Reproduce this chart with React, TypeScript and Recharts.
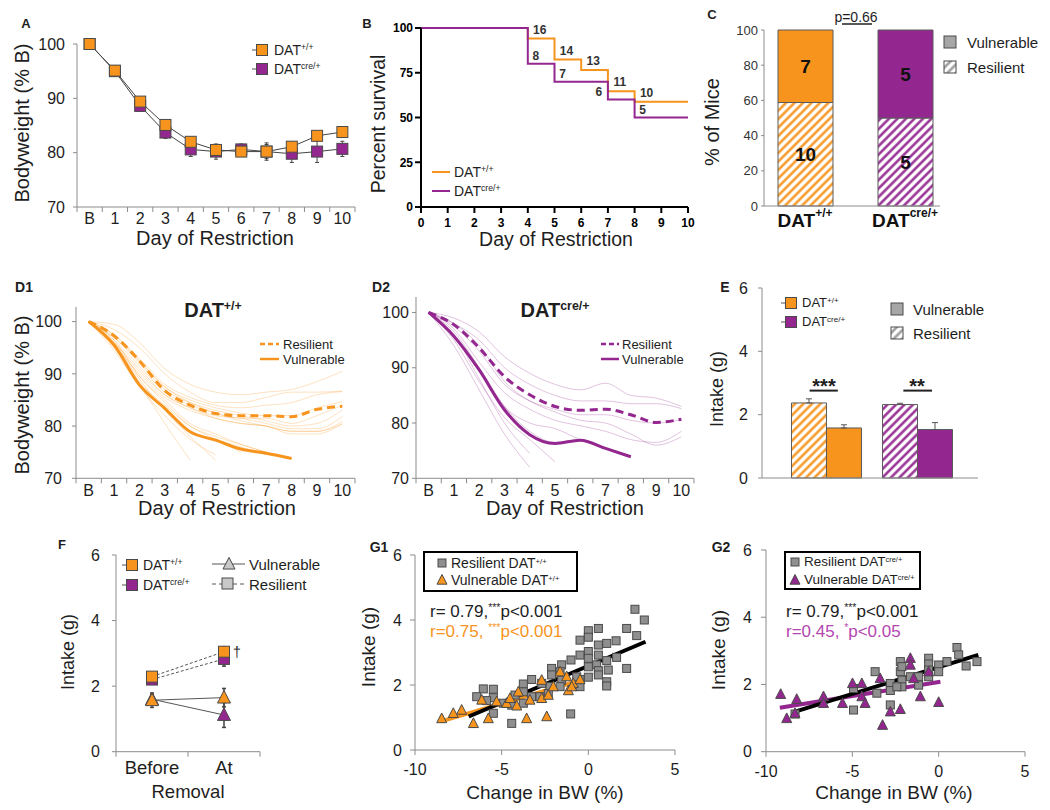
import React from "react";
import {
  LineChart,
  Line,
  BarChart,
  Bar,
  Cell,
  ScatterChart,
  Scatter,
  XAxis,
  YAxis,
  ErrorBar,
  LabelList,
  ReferenceLine,
} from "recharts";

const FONT = '"Liberation Sans", Arial, Helvetica, sans-serif';
const ORANGE = "#f7941d";
const PURPLE = "#93278f";
const PINK = "#b446b0";
const GREY = "#8f8f8f";
const EDGE = "#4a4a4a";
const AXIS = "#8c8c8c";
const INK = "#1e1e1e";

// ---------- data ----------
const dayLabels = ["B", "1", "2", "3", "4", "5", "6", "7", "8", "9", "10"];
const dayIdx = dayLabels.map((_, i) => i);

// A: mean bodyweight (% of baseline)
const bwWT = [100, 95.1, 89.4, 85.1, 82.0, 80.5, 80.2, 80.2, 81.1, 83.1, 83.8];
const bwWTErr = [0, 0.4, 0.5, 0.6, 0.8, 0.9, 0.9, 1.6, 0.9, 0.8, 0.7];
const bwCre = [100, 95.0, 88.6, 83.7, 80.6, 80.2, 80.6, 80.2, 79.8, 80.2, 80.7];
const bwCreErr = [0, 0.5, 0.9, 1.1, 1.3, 1.4, 1.0, 1.3, 1.6, 2.0, 1.4];

// B: survival (step curves) and mice still in the study
const survDays = [0, 4, 5, 6, 7, 8, 10];
const survWT = [100, 94.1, 82.4, 76.5, 64.7, 58.8, 58.8];
const survWTn = [null, 16, 14, 13, 11, 10, null];
const survCre = [100, 80, 70, 70, 60, 50, 50];
const survCreN = [null, 8, 7, null, 6, 5, null];

// C: outcome split
const genotypeSup = ["+/+", "cre/+"];
const pctResilient = [58.8, 50];
const pctVulnerable = [41.2, 50];
const nResilient = [10, 5];
const nVulnerable = [7, 5];

// D1: individual DAT+/+ traces
const d1Resilient = [
  [100, 99.5, 96, 91, 88, 86.5, 86, 86.5, 87, 88.5, 90.5],
  [100, 98.5, 95, 90, 86.5, 84.5, 84.5, 85.5, 86.5, 86.5, 86.7],
  [100, 97.5, 93, 88, 85.5, 84, 83.5, 84, 84.5, 86, 86.6],
  [100, 97, 92.5, 87.5, 85, 83.5, 82.5, 82, 82, 83.5, 84.7],
  [100, 96.5, 91.5, 86.5, 84, 82.5, 81.5, 81.5, 80.5, 82, 84.0],
  [100, 97, 92, 87, 84.5, 83, 82, 81, 80, 80.5, 83.1],
  [100, 96, 90.5, 86, 83.5, 82, 81.5, 80.5, 79.5, 79.5, 81.8],
  [100, 95.5, 90, 85.5, 83, 81.5, 80.5, 80, 79, 79, 80.9],
  [100, 96, 91, 86, 83.5, 81.5, 80.5, 80, 78.5, 78.5, 80.5],
  [100, 97.5, 92.5, 87.5, 84.5, 82.5, 81, 80, 79, 79, 80.4],
];
const d1Vulnerable = [
  [100, 95, 88, 80.5, 73.5],
  [100, 95.5, 89, 83, 78, 73.5],
  [100, 94.5, 87.5, 82, 77.5, 74.5],
  [100, 96, 89.5, 84.5, 80, 77.5, 75],
  [100, 96, 88.5, 84, 80, 78, 76.5, 75],
  [100, 95.5, 88, 83.5, 79, 77.5, 76, 74.5],
  [100, 96.5, 89.5, 85, 80.5, 78.5, 76.5, 75, 73.8],
];
const d1ResMean = [100, 97.3, 92.5, 86.8, 84.0, 82.4, 82.0, 82.0, 81.8, 83.2, 83.8];
const d1VulMean = [100, 95.5, 87.9, 83.4, 78.9, 77.3, 75.6, 74.8, 73.8];

// D2: individual DATcre/+ traces
const d2Resilient = [
  [100, 99, 96.5, 92, 89, 87, 86, 87.2, 85, 84.5, 83],
  [100, 98, 95, 90, 87, 85, 84, 84, 83.5, 83.5, 82.6],
  [100, 97.5, 93, 87, 84, 82.5, 81.5, 81.5, 80.5, 80, 80.6],
  [100, 98, 94, 87.5, 84, 82, 80.5, 80, 78, 76, 77.5],
  [100, 97, 91, 85.5, 82.5, 80.5, 79.5, 78.5, 77, 76.5, 78.5],
];
const d2Vulnerable = [
  [100, 94, 86, 78, 72],
  [100, 96, 88, 80, 74.5],
  [100, 95, 87.5, 81, 77, 73],
  [100, 96.5, 90, 83, 80, 79, 77, 75.5],
  [100, 96, 90, 83, 78.5, 76.5, 77, 75.5, 74],
];
const d2ResMean = [100, 97.8, 93.6, 88.4, 85.1, 83.0, 82.3, 82.5, 81.5, 80.1, 80.7];
const d2VulMean = [100, 95.7, 89.6, 82.4, 77.9, 76.3, 76.9, 75.4, 73.9];

// E: intake during restriction
const intakeRes = [2.37, 2.32];
const intakeResErr = [0.13, 0.04];
const intakeVul = [1.58, 1.53];
const intakeVulErr = [0.1, 0.22];

// F: intake before / at removal
const phaseLabels = ["Before", "At"];
const fResWT = [2.29, 3.05];
const fResWTErr = [0.1, 0.15];
const fResCre = [2.2, 2.83];
const fResCreErr = [0.1, 0.22];
const fVulWT = [1.57, 1.65];
const fVulWTErr = [0.22, 0.28];
const fVulCre = [1.6, 1.12];
const fVulCreErr = [0.15, 0.38];

// G1 / G2: change in BW (%) vs intake (g)
const g1Resilient: [number, number][] = [
  [2.69, 4.33], [3.23, 4.0], [2.21, 3.74], [2.79, 3.52], [0.58, 3.74], [0, 3.67], [0, 3.47],
  [-0.48, 3.38], [0.58, 3.23], [1.06, 3.28], [1.6, 3.36], [0, 3.03], [-0.48, 2.92], [0.58, 2.92],
  [1.63, 2.85], [-1.0, 2.77], [0, 2.82], [1.06, 2.75], [0.48, 2.62], [0, 2.56], [0.58, 2.44],
  [1.15, 2.46], [2.21, 2.51], [0.58, 2.31], [0, 2.24], [1.06, 2.1], [1.06, 1.97], [-0.48, 1.95],
  [-0.48, 2.17], [-1.54, 2.62], [-2.12, 2.51], [-1.63, 2.41], [-1.54, 2.15], [-2.12, 2.31],
  [-1.63, 1.95], [-2.21, 1.95], [-2.69, 2.05], [-3.27, 2.17], [-3.75, 2.03], [-3.27, 1.64],
  [-3.75, 1.79], [-4.23, 1.69], [-3.75, 1.44], [-4.42, 1.38], [-4.9, 1.44], [-5.48, 1.61],
  [-5.48, 1.87], [-6.06, 1.88], [-6.44, 1.64], [-5.87, 1.52], [-5.48, 1.13], [-4.42, 0.82],
  [-1.02, 1.11], [-2.79, 1.64], [-0.67, 2.25], [-2.31, 1.74],
];
const g1Vulnerable: [number, number][] = [
  [-8.46, 0.97], [-7.79, 1.13], [-7.31, 1.23], [-6.63, 0.82], [-6.15, 1.54], [-5.77, 0.97],
  [-5.29, 1.49], [-4.71, 1.44], [-4.13, 1.36], [-4.04, 1.79], [-3.56, 0.97], [-2.69, 2.15],
  [-2.69, 1.59], [-2.4, 1.03], [-2.31, 1.69], [-1.63, 2.41], [-1.25, 2.26], [-1.15, 1.83],
  [-0.87, 2.05], [-0.48, 2.17], [-0.96, 1.95], [-2.02, 1.95], [-3.37, 1.54], [-4.52, 1.59],
];
const g1FitAll: [number, number][] = [[-6.9, 1.03], [3.3, 3.33]];
const g1FitVul: [number, number][] = [[-8.5, 0.88], [-0.3, 2.17]];

const g2Resilient: [number, number][] = [
  [1.06, 3.1], [1.16, 2.88], [0.48, 2.68], [1.59, 2.55], [2.22, 2.68], [0, 2.58], [0, 2.38],
  [-0.58, 2.78], [-0.58, 2.61], [-0.58, 2.43], [-0.58, 2.23], [-1.16, 2.23], [-1.16, 1.98],
  [-2.22, 2.68], [-2.22, 2.38], [-2.13, 2.53], [-2.13, 2.13], [-2.13, 1.93], [-1.64, 2.23],
  [-2.8, 2.03], [-2.8, 1.82], [-2.8, 1.39], [-3.68, 2.38], [-3.58, 1.74], [-4.93, 1.88],
  [-4.93, 1.24], [-8.32, 1.12], [-2.42, 1.93],
];
const g2Vulnerable: [number, number][] = [
  [-9.15, 1.71], [-8.8, 0.99], [-8.22, 1.56], [-8.32, 1.14], [-6.67, 1.64], [-6.67, 1.44],
  [-5.57, 1.44], [-4.99, 2.03], [-4.45, 2.03], [-4.45, 1.64], [-4.26, 1.44], [-3.39, 2.18],
  [-3.25, 0.79], [-2.8, 1.19], [-2.22, 1.26], [-1.64, 2.78], [-1.64, 2.58], [-1.06, 1.64],
  [-0.58, 2.38], [0, 1.47], [-1.45, 2.18],
];
const g2FitAll: [number, number][] = [[-8.5, 1.16], [2.3, 2.88]];
const g2FitVul: [number, number][] = [[-9.2, 1.31], [0.1, 2.08]];

// ---------- helpers ----------
type Plot = { x0: number; y0: number; x1: number; y1: number };

function frame(p: Plot, l: number, t: number, r: number, b: number) {
  return {
    pos: { position: "absolute" as const, left: p.x0 - l, top: p.y0 - t },
    width: p.x1 - p.x0 + l + r,
    height: p.y1 - p.y0 + t + b,
    margin: { top: t, right: r, bottom: 0, left: 0 },
  };
}

function Sup({ children, k = 0.62 }: { children: React.ReactNode; k?: number }) {
  return <span style={{ fontSize: `${k}em`, position: "relative", top: "-0.55em" }}>{children}</span>;
}

function Txt(props: {
  x: number;
  y: number;
  children: React.ReactNode;
  size?: number;
  anchor?: "start" | "middle" | "end";
  bold?: boolean;
  color?: string;
  rotate?: boolean;
}) {
  const { x, y, children, size = 14, anchor = "start", bold, color = INK, rotate } = props;
  const tx = anchor === "start" ? "0" : anchor === "middle" ? "-50%" : "-100%";
  return (
    <div
      style={{
        position: "absolute",
        left: x,
        top: y,
        transform: rotate ? "translate(-50%,-50%) rotate(-90deg)" : `translate(${tx},-50%)`,
        fontSize: size,
        fontWeight: bold ? 700 : 400,
        color,
        whiteSpace: "nowrap",
        lineHeight: 1,
      }}
    >
      {children}
    </div>
  );
}

// category labels centred in their slot, tick marks on the slot borders (Excel style)
function BetweenTick(props: any) {
  const { x, y, payload, width, index, visibleTicksCount, labels, n, dy = 12, fontSize = 16 } = props;
  const step = width ? width / n : 25;
  const last = index === visibleTicksCount - 1;
  return (
    <g>
      <line x1={x - step / 2} x2={x - step / 2} y1={y} y2={y + 5} stroke={AXIS} />
      {last && <line x1={x + step / 2} x2={x + step / 2} y1={y} y2={y + 5} stroke={AXIS} />}
      <text x={x} y={y + dy} textAnchor="middle" dominantBaseline="central" fontSize={fontSize} fill={INK}>
        {labels[payload.value]}
      </text>
    </g>
  );
}

function GenoTick(props: any) {
  const { x, y, payload } = props;
  return (
    <text x={x} y={y + 14} textAnchor="middle" dominantBaseline="central" fontSize={19} fontWeight={700} fill="#111">
      DAT
      <tspan dy={-7} fontSize={12}>
        {genotypeSup[payload.value]}
      </tspan>
    </text>
  );
}

const squareDot = (fill: string, s: number) => (p: any) =>
  p.cx == null ? (
    <g key={p.index} />
  ) : (
    <rect key={p.index} x={p.cx - s / 2} y={p.cy - s / 2} width={s} height={s} fill={fill} stroke={EDGE} strokeWidth={1} />
  );

const triPoints = (cx: number, cy: number, s: number) =>
  `${cx},${cy - s * 0.55} ${cx - s / 2},${cy + s * 0.42} ${cx + s / 2},${cy + s * 0.42}`;

const triDot = (fill: string, s: number) => (p: any) =>
  p.cx == null ? <g key={p.index} /> : <polygon key={p.index} points={triPoints(p.cx, p.cy, s)} fill={fill} stroke={EDGE} strokeWidth={1} />;

const riskLabel = (dx: number, dy: number) => (p: any) => {
  if (p.value == null) return null;
  // the "6" of DATcre/+ sits left of its step, where DAT+/+ also drops
  const ox = p.value === 6 && dx < 10 ? -9 : dx;
  return (
    <text key={p.index} x={p.x + ox} y={p.y + dy} textAnchor="middle" dominantBaseline="central" fontSize={12} fontWeight={600} fill="#333">
      {p.value}
    </text>
  );
};

const pts = (arr: [number, number][]) => arr.map(([x, y]) => ({ x, y }));
const seg = (arr: [number, number][]) => arr.map(([x, y]) => ({ x, y }));

// ---------- panels ----------
function PanelA() {
  const f = frame({ x0: 77, y0: 44, x1: 355, y1: 207 }, 60, 12, 12, 30);
  const rows = dayIdx.map((i) => ({ day: i, wt: bwWT[i], wtErr: bwWTErr[i], cre: bwCre[i], creErr: bwCreErr[i] }));
  return (
    <div style={f.pos}>
      <LineChart width={f.width} height={f.height} data={rows} margin={f.margin}>
        <XAxis
          type="number"
          dataKey="day"
          domain={[-0.5, 10.5]}
          ticks={dayIdx}
          interval={0}
          height={30}
          tickSize={0}
          tickMargin={0}
          tickLine={false}
          axisLine={{ stroke: AXIS }}
          tick={<BetweenTick labels={dayLabels} n={11} dy={11} fontSize={16} />}
        />
        <YAxis
          domain={[70, 100]}
          ticks={[70, 80, 90, 100]}
          interval={0}
          width={60}
          tickSize={4}
          tickMargin={8}
          axisLine={{ stroke: AXIS }}
          tickLine={{ stroke: AXIS }}
          tick={{ fontSize: 16, fill: INK }}
        />
        <Line dataKey="cre" stroke="#444" strokeWidth={1} dot={squareDot(PURPLE, 11)} isAnimationActive={false}>
          <ErrorBar dataKey="creErr" width={2} stroke="#444" strokeWidth={1} />
        </Line>
        <Line dataKey="wt" stroke="#444" strokeWidth={1} dot={squareDot(ORANGE, 11)} isAnimationActive={false}>
          <ErrorBar dataKey="wtErr" width={2} stroke="#444" strokeWidth={1} />
        </Line>
      </LineChart>
    </div>
  );
}

function PanelB() {
  const f = frame({ x0: 421, y0: 28, x1: 688, y1: 207 }, 40, 12, 14, 30);
  const wt = survDays.map((d, i) => ({ day: d, pct: survWT[i], n: survWTn[i] }));
  const cre = survDays.map((d, i) => ({ day: d, pct: survCre[i], n: survCreN[i] }));
  const bold = { fontSize: 12, fontWeight: 700, fill: "#000" };
  return (
    <div style={f.pos}>
      <LineChart width={f.width} height={f.height} margin={f.margin}>
        <XAxis
          type="number"
          dataKey="day"
          domain={[0, 10]}
          ticks={[0, 1, 2, 3, 4, 5, 6, 7, 8, 9, 10]}
          interval={0}
          height={30}
          tickSize={6}
          tickMargin={5}
          axisLine={{ stroke: "#000", strokeWidth: 2 }}
          tickLine={{ stroke: "#000", strokeWidth: 2 }}
          tick={bold}
        />
        <YAxis
          type="number"
          dataKey="pct"
          domain={[0, 100]}
          ticks={[0, 25, 50, 75, 100]}
          interval={0}
          width={40}
          tickSize={6}
          tickMargin={2}
          axisLine={{ stroke: "#000", strokeWidth: 2 }}
          tickLine={{ stroke: "#000", strokeWidth: 2 }}
          tick={bold}
        />
        <Line data={wt} dataKey="pct" type="stepAfter" stroke={ORANGE} strokeWidth={2} dot={false} isAnimationActive={false}>
          <LabelList dataKey="n" content={riskLabel(12, -9)} />
        </Line>
        <Line data={cre} dataKey="pct" type="stepAfter" stroke={PURPLE} strokeWidth={2} dot={false} isAnimationActive={false}>
          <LabelList dataKey="n" content={riskLabel(8, -8)} />
        </Line>
      </LineChart>
    </div>
  );
}

function PanelC() {
  const f = frame({ x0: 764, y0: 30, x1: 940, y1: 206 }, 40, 20, 10, 30);
  const rows = genotypeSup.map((_, i) => ({
    g: i,
    res: pctResilient[i],
    vul: pctVulnerable[i],
    nRes: nResilient[i],
    nVul: nVulnerable[i],
  }));
  const solid = [ORANGE, PURPLE];
  const hatch = ["url(#hatch-o)", "url(#hatch-p)"];
  return (
    <div style={f.pos}>
      <BarChart width={f.width} height={f.height} data={rows} margin={f.margin}>
        <XAxis
          type="number"
          dataKey="g"
          domain={[-0.41, 1.35]}
          ticks={[0, 1]}
          interval={0}
          height={30}
          tickSize={0}
          tickMargin={0}
          tickLine={false}
          axisLine={{ stroke: AXIS }}
          tick={<GenoTick />}
        />
        <YAxis
          domain={[0, 100]}
          ticks={[0, 20, 40, 60, 80, 100]}
          interval={0}
          width={40}
          tickSize={3}
          tickMargin={3}
          axisLine={{ stroke: AXIS }}
          tickLine={{ stroke: AXIS }}
          tick={{ fontSize: 13, fill: "#333" }}
        />
        <Bar dataKey="res" stackId="s" barSize={55} stroke="#5a5a5a" strokeWidth={1} isAnimationActive={false}>
          {rows.map((_, i) => (
            <Cell key={i} fill={hatch[i]} />
          ))}
          <LabelList dataKey="nRes" position="center" fontSize={19} fontWeight={700} fill="#111" />
        </Bar>
        <Bar dataKey="vul" stackId="s" barSize={55} stroke="#5a5a5a" strokeWidth={1} isAnimationActive={false}>
          {rows.map((_, i) => (
            <Cell key={i} fill={solid[i]} />
          ))}
          <LabelList dataKey="nVul" position="center" fontSize={19} fontWeight={700} fill="#111" />
        </Bar>
      </BarChart>
    </div>
  );
}

function traceRows(res: number[][], vul: number[][], resMean: number[], vulMean: number[]) {
  return dayIdx.map((i) => {
    const row: Record<string, number | null> = {
      day: i,
      resMean: resMean[i] ?? null,
      vulMean: vulMean[i] ?? null,
    };
    res.forEach((s, k) => (row[`r${k}`] = s[i] ?? null));
    vul.forEach((s, k) => (row[`v${k}`] = s[i] ?? null));
    return row;
  });
}

function TracePanel(props: {
  plot: Plot;
  res: number[][];
  vul: number[][];
  resMean: number[];
  vulMean: number[];
  color: string;
  yMargin: number;
}) {
  const { plot, res, vul, resMean, vulMean, color, yMargin } = props;
  const f = frame(plot, 60, 10, 12, 30);
  const rows = traceRows(res, vul, resMean, vulMean);
  const thin = { type: "monotone" as const, stroke: color, strokeOpacity: 0.28, strokeWidth: 1, dot: false, isAnimationActive: false };
  return (
    <div style={f.pos}>
      <LineChart width={f.width} height={f.height} data={rows} margin={f.margin}>
        <XAxis
          type="number"
          dataKey="day"
          domain={[-0.5, 10.5]}
          ticks={dayIdx}
          interval={0}
          height={30}
          tickSize={0}
          tickMargin={0}
          tickLine={false}
          axisLine={{ stroke: AXIS }}
          tick={<BetweenTick labels={dayLabels} n={11} dy={12} fontSize={16} />}
        />
        <YAxis
          domain={[70, 102.8]}
          ticks={[70, 80, 90, 100]}
          interval={0}
          width={60}
          tickSize={4}
          tickMargin={yMargin}
          axisLine={{ stroke: AXIS }}
          tickLine={{ stroke: AXIS }}
          tick={{ fontSize: 16, fill: INK }}
        />
        {res.map((_, k) => (
          <Line key={`r${k}`} dataKey={`r${k}`} {...thin} />
        ))}
        {vul.map((_, k) => (
          <Line key={`v${k}`} dataKey={`v${k}`} {...thin} />
        ))}
        <Line dataKey="resMean" type="monotone" stroke={color} strokeWidth={3} strokeDasharray="8 5" dot={false} isAnimationActive={false} />
        <Line dataKey="vulMean" type="monotone" stroke={color} strokeWidth={3} dot={false} isAnimationActive={false} />
      </LineChart>
    </div>
  );
}

function PanelE() {
  const f = frame({ x0: 762, y0: 288, x1: 978, y1: 478 }, 45, 12, 10, 10);
  const rows = genotypeSup.map((_, i) => ({
    g: i,
    res: intakeRes[i],
    resErr: [0, intakeResErr[i]],
    vul: intakeVul[i],
    vulErr: [0, intakeVulErr[i]],
  }));
  const solid = [ORANGE, PURPLE];
  const hatch = ["url(#hatch-o)", "url(#hatch-p)"];
  return (
    <div style={f.pos}>
      <BarChart width={f.width} height={f.height} data={rows} margin={f.margin} barGap={0}>
        <XAxis type="number" dataKey="g" domain={[-0.703, 1.67]} ticks={[0, 1]} height={10} tick={false} tickLine={false} axisLine={{ stroke: AXIS }} />
        <YAxis
          domain={[0, 6]}
          ticks={[0, 2, 4, 6]}
          interval={0}
          width={45}
          tickSize={4}
          tickMargin={10}
          axisLine={{ stroke: AXIS }}
          tickLine={{ stroke: AXIS }}
          tick={{ fontSize: 16, fill: INK }}
        />
        <Bar dataKey="res" barSize={35} stroke="#5a5a5a" strokeWidth={1} isAnimationActive={false}>
          {rows.map((_, i) => (
            <Cell key={i} fill={hatch[i]} />
          ))}
          <ErrorBar dataKey="resErr" width={3} stroke="#555" strokeWidth={1} />
        </Bar>
        <Bar dataKey="vul" barSize={35} stroke="#5a5a5a" strokeWidth={1} isAnimationActive={false}>
          {rows.map((_, i) => (
            <Cell key={i} fill={solid[i]} />
          ))}
          <ErrorBar dataKey="vulErr" width={3} stroke="#555" strokeWidth={1} />
        </Bar>
        <ReferenceLine segment={[{ x: -0.18, y: 2.76 }, { x: 0.13, y: 2.76 }]} stroke="#222" strokeWidth={2} />
        <ReferenceLine segment={[{ x: 0.85, y: 2.76 }, { x: 1.165, y: 2.76 }]} stroke="#222" strokeWidth={2} />
      </BarChart>
    </div>
  );
}

function PanelF() {
  const f = frame({ x0: 116, y0: 555, x1: 260, y1: 751.7 }, 55, 12, 20, 30);
  const rows = (v: number[], e: number[]) => phaseLabels.map((_, i) => ({ ph: i, v: v[i], e: e[i] }));
  const common = { dataKey: "v", stroke: "#555", strokeWidth: 1, isAnimationActive: false };
  return (
    <div style={f.pos}>
      <LineChart width={f.width} height={f.height} margin={f.margin}>
        <XAxis
          type="number"
          dataKey="ph"
          domain={[-0.5, 1.5]}
          ticks={[0, 1]}
          interval={0}
          height={30}
          tickSize={0}
          tickMargin={0}
          tickLine={false}
          axisLine={{ stroke: AXIS }}
          tick={<BetweenTick labels={phaseLabels} n={2} dy={16} fontSize={18.5} />}
        />
        <YAxis
          type="number"
          domain={[0, 6]}
          ticks={[0, 2, 4, 6]}
          interval={0}
          width={55}
          tickSize={4}
          tickMargin={12}
          axisLine={{ stroke: AXIS }}
          tickLine={{ stroke: AXIS }}
          tick={{ fontSize: 16, fill: INK }}
        />
        <Line data={rows(fResCre, fResCreErr)} {...common} strokeDasharray="3 2" dot={squareDot(PURPLE, 11)}>
          <ErrorBar dataKey="e" width={2} stroke="#444" />
        </Line>
        <Line data={rows(fResWT, fResWTErr)} {...common} strokeDasharray="3 2" dot={squareDot(ORANGE, 11)}>
          <ErrorBar dataKey="e" width={2} stroke="#444" />
        </Line>
        <Line data={rows(fVulCre, fVulCreErr)} {...common} dot={triDot(PURPLE, 13)}>
          <ErrorBar dataKey="e" width={2} stroke="#444" />
        </Line>
        <Line data={rows(fVulWT, fVulWTErr)} {...common} dot={triDot(ORANGE, 13)}>
          <ErrorBar dataKey="e" width={2} stroke="#444" />
        </Line>
      </LineChart>
    </div>
  );
}

function ScatterPanel(props: {
  plot: Plot;
  res: [number, number][];
  vul: [number, number][];
  fitAll: [number, number][];
  fitVul: [number, number][];
  color: string;
  yMargin: number;
}) {
  const { plot, res, vul, fitAll, fitVul, color, yMargin } = props;
  const f = frame(plot, 50, 12, 15, 30);
  return (
    <div style={f.pos}>
      <ScatterChart width={f.width} height={f.height} margin={f.margin}>
        <XAxis
          type="number"
          dataKey="x"
          domain={[-10, 5]}
          ticks={[-10, -5, 0, 5]}
          interval={0}
          height={30}
          tickSize={5}
          tickMargin={9}
          axisLine={{ stroke: AXIS }}
          tickLine={{ stroke: AXIS }}
          tick={{ fontSize: 16, fill: INK }}
        />
        <YAxis
          type="number"
          dataKey="y"
          domain={[0, 6]}
          ticks={[0, 2, 4, 6]}
          interval={0}
          width={50}
          tickSize={5}
          tickMargin={yMargin}
          axisLine={{ stroke: AXIS }}
          tickLine={{ stroke: AXIS }}
          tick={{ fontSize: 16, fill: INK }}
        />
        <Scatter data={pts(res)} shape={squareDot(GREY, 8)} isAnimationActive={false} />
        <Scatter data={pts(vul)} shape={triDot(color, 10)} isAnimationActive={false} />
        <ReferenceLine segment={seg(fitVul)} stroke={color} strokeWidth={4} />
        <ReferenceLine segment={seg(fitAll)} stroke="#000" strokeWidth={4} />
      </ScatterChart>
    </div>
  );
}

// ---------- overlay: legend swatches and pattern defs ----------
function Overlay() {
  const sq = (cx: number, cy: number, s: number, fill: string, line = true) => (
    <g>
      {line && <line x1={cx - 10} x2={cx} y1={cy} y2={cy} stroke="#555" />}
      <rect x={cx - s / 2} y={cy - s / 2} width={s} height={s} fill={fill} stroke={EDGE} />
    </g>
  );
  return (
    <svg width={1050} height={810} style={{ position: "absolute", left: 0, top: 0, pointerEvents: "none" }}>
      <defs>
        {[
          ["hatch-o", ORANGE],
          ["hatch-p", PURPLE],
          ["hatch-g", "#999"],
        ].map(([id, c]) => (
          <pattern key={id} id={id} width="6" height="6" patternUnits="userSpaceOnUse" patternTransform="rotate(45)">
            <rect width="6" height="6" fill="#fff" />
            <line x1="1.5" y1="0" x2="1.5" y2="6" stroke={c} strokeWidth="2.4" />
          </pattern>
        ))}
      </defs>
      {/* A */}
      {sq(262, 50, 11, ORANGE)}
      {sq(262, 69, 11, PURPLE)}
      {/* B */}
      <line x1={432} x2={450} y1={172} y2={172} stroke={ORANGE} strokeWidth={2} />
      <line x1={432} x2={450} y1={191} y2={191} stroke={PURPLE} strokeWidth={2} />
      {/* C */}
      {sq(950, 42, 12, "#a6a6a6", false)}
      {sq(950, 67, 12, "url(#hatch-g)", false)}
      <line x1={842} x2={872} y1={24} y2={24} stroke="#222" strokeWidth={1.5} />
      {/* D1 / D2 */}
      <line x1={260} x2={279} y1={344} y2={344} stroke={ORANGE} strokeWidth={2.5} strokeDasharray="5 3" />
      <line x1={260} x2={279} y1={359} y2={359} stroke={ORANGE} strokeWidth={2.5} />
      <line x1={601} x2={619} y1={344} y2={344} stroke={PURPLE} strokeWidth={2.5} strokeDasharray="5 3" />
      <line x1={601} x2={619} y1={359} y2={359} stroke={PURPLE} strokeWidth={2.5} />
      {/* E */}
      {sq(791, 303, 11, ORANGE)}
      {sq(791, 322, 11, PURPLE)}
      {sq(897, 309, 12, "#a6a6a6", false)}
      {sq(897, 333, 12, "url(#hatch-g)", false)}
      {/* F */}
      {sq(132, 565, 11, ORANGE)}
      {sq(132, 585, 11, PURPLE)}
      <line x1={212} x2={245} y1={564} y2={564} stroke="#555" />
      <polygon points={triPoints(229, 564, 12)} fill="#c8c8c8" stroke={EDGE} />
      <line x1={212} x2={245} y1={584} y2={584} stroke="#555" strokeDasharray="4 3" />
      <rect x={222} y={578} width={11} height={11} fill="#c8c8c8" stroke={EDGE} />
      {/* G1 / G2 */}
      <rect x={438} y={559} width={8} height={8} fill={GREY} stroke={EDGE} />
      <polygon points={triPoints(442, 580, 10)} fill={ORANGE} stroke={EDGE} />
      <rect x={791} y={558} width={8} height={8} fill={GREY} stroke={EDGE} />
      <polygon points={triPoints(795, 580, 10)} fill={PURPLE} stroke={EDGE} />
    </svg>
  );
}

export default function App() {
  return (
    <div
      style={{
        position: "absolute",
        left: 0,
        top: 0,
        width: 1050,
        height: 810,
        background: "#fff",
        fontFamily: FONT,
        color: INK,
        overflow: "hidden",
      }}
    >
      <PanelA />
      <PanelB />
      <PanelC />
      <TracePanel
        plot={{ x0: 76, y0: 307, x1: 355, y1: 478.3 }}
        res={d1Resilient}
        vul={d1Vulnerable}
        resMean={d1ResMean}
        vulMean={d1VulMean}
        color={ORANGE}
        yMargin={10}
      />
      <TracePanel
        plot={{ x0: 416, y0: 297, x1: 694, y1: 478.3 }}
        res={d2Resilient}
        vul={d2Vulnerable}
        resMean={d2ResMean}
        vulMean={d2VulMean}
        color={PURPLE}
        yMargin={3}
      />
      <PanelE />
      <PanelF />
      <ScatterPanel plot={{ x0: 415, y0: 555, x1: 675, y1: 750 }} res={g1Resilient} vul={g1Vulnerable} fitAll={g1FitAll} fitVul={g1FitVul} color={ORANGE} yMargin={8} />
      <ScatterPanel plot={{ x0: 766, y0: 550, x1: 1025, y1: 751.7 }} res={g2Resilient} vul={g2Vulnerable} fitAll={g2FitAll} fitVul={g2FitVul} color={PURPLE} yMargin={9} />

      <div style={{ position: "absolute", left: 423, top: 551, width: 155, height: 41, border: "2px solid #000", boxSizing: "border-box" }} />
      <div style={{ position: "absolute", left: 784, top: 551, width: 137, height: 39, border: "2px solid #000", boxSizing: "border-box" }} />

      <Overlay />

      {/* A */}
      <Txt x={26} y={23} size={13} bold anchor="middle">A</Txt>
      <Txt x={22} y={123} size={20} rotate>Bodyweight (% B)</Txt>
      <Txt x={215} y={238} size={20} anchor="middle">Day of Restriction</Txt>
      <Txt x={274} y={50} size={14}>DAT<Sup>+/+</Sup></Txt>
      <Txt x={274} y={69} size={14}>DAT<Sup>cre/+</Sup></Txt>

      {/* B */}
      <Txt x={367} y={23} size={13} bold anchor="middle">B</Txt>
      <Txt x={379} y={124} size={19.5} rotate>Percent survival</Txt>
      <Txt x={556} y={240} size={19.5} anchor="middle">Day of Restriction</Txt>
      <Txt x={454} y={172} size={14}>DAT<Sup>+/+</Sup></Txt>
      <Txt x={454} y={191} size={14}>DAT<Sup>cre/+</Sup></Txt>

      {/* C */}
      <Txt x={712} y={14} size={13} bold anchor="middle">C</Txt>
      <Txt x={712} y={122} size={20} rotate>% of Mice</Txt>
      <Txt x={856} y={17} size={14} anchor="middle">p=0.66</Txt>
      <Txt x={967} y={42} size={15}>Vulnerable</Txt>
      <Txt x={967} y={67} size={15}>Resilient</Txt>

      {/* D1 */}
      <Txt x={24} y={287} size={14} bold anchor="middle">D1</Txt>
      <Txt x={22} y={395} size={20} rotate>Bodyweight (% B)</Txt>
      <Txt x={217} y={508} size={20} anchor="middle">Day of Restriction</Txt>
      <Txt x={213} y={310} size={20} bold anchor="middle">DAT<Sup>+/+</Sup></Txt>
      <Txt x={283} y={344} size={13}>Resilient</Txt>
      <Txt x={283} y={359} size={13}>Vulnerable</Txt>

      {/* D2 */}
      <Txt x={381} y={287} size={14} bold anchor="middle">D2</Txt>
      <Txt x={565} y={508} size={20} anchor="middle">Day of Restriction</Txt>
      <Txt x={555} y={310} size={20} bold anchor="middle">DAT<Sup>cre/+</Sup></Txt>
      <Txt x={622} y={344} size={13}>Resilient</Txt>
      <Txt x={622} y={359} size={13}>Vulnerable</Txt>

      {/* E */}
      <Txt x={725} y={287} size={14} bold anchor="middle">E</Txt>
      <Txt x={717} y={389} size={18} rotate>Intake (g)</Txt>
      <Txt x={802} y={303} size={13}>DAT<Sup>+/+</Sup></Txt>
      <Txt x={802} y={322} size={13}>DAT<Sup>cre/+</Sup></Txt>
      <Txt x={913} y={309} size={15}>Vulnerable</Txt>
      <Txt x={913} y={333} size={15}>Resilient</Txt>
      <Txt x={824} y={386} size={20} bold anchor="middle">***</Txt>
      <Txt x={917} y={386} size={20} bold anchor="middle">**</Txt>

      {/* F */}
      <Txt x={62} y={544} size={13} bold anchor="middle">F</Txt>
      <Txt x={68} y={652} size={18} rotate>Intake (g)</Txt>
      <Txt x={188} y={792} size={18.5} anchor="middle">Removal</Txt>
      <Txt x={143} y={565} size={14}>DAT<Sup>+/+</Sup></Txt>
      <Txt x={143} y={585} size={14}>DAT<Sup>cre/+</Sup></Txt>
      <Txt x={249} y={564} size={15}>Vulnerable</Txt>
      <Txt x={249} y={584} size={15}>Resilient</Txt>
      <Txt x={237} y={652} size={14} anchor="middle">†</Txt>

      {/* G1 */}
      <Txt x={379} y={547} size={14} bold anchor="middle">G1</Txt>
      <Txt x={368} y={647} size={19} rotate>Intake (g)</Txt>
      <Txt x={545} y={792} size={19} anchor="middle">Change in BW (%)</Txt>
      <Txt x={451} y={563} size={14}>Resilient DAT<Sup k={0.55}>+/+</Sup></Txt>
      <Txt x={451} y={580} size={14}>Vulnerable DAT<Sup k={0.55}>+/+</Sup></Txt>
      <Txt x={430} y={611} size={17}>r= 0.79,<Sup>***</Sup>p&lt;0.001</Txt>
      <Txt x={430} y={631} size={17} color={ORANGE}>r=0.75, <Sup>***</Sup>p&lt;0.001</Txt>

      {/* G2 */}
      <Txt x={721} y={547} size={14} bold anchor="middle">G2</Txt>
      <Txt x={718} y={650} size={19} rotate>Intake (g)</Txt>
      <Txt x={894} y={792} size={19} anchor="middle">Change in BW (%)</Txt>
      <Txt x={804} y={562} size={13.5}>Resilient DAT<Sup k={0.55}>cre/+</Sup></Txt>
      <Txt x={804} y={580} size={13.5}>Vulnerable DAT<Sup k={0.55}>cre/+</Sup></Txt>
      <Txt x={786} y={611} size={17}>r= 0.79,<Sup>***</Sup>p&lt;0.001</Txt>
      <Txt x={786} y={631} size={17} color={PINK}>r=0.45, <Sup>*</Sup>p&lt;0.05</Txt>
    </div>
  );
}
